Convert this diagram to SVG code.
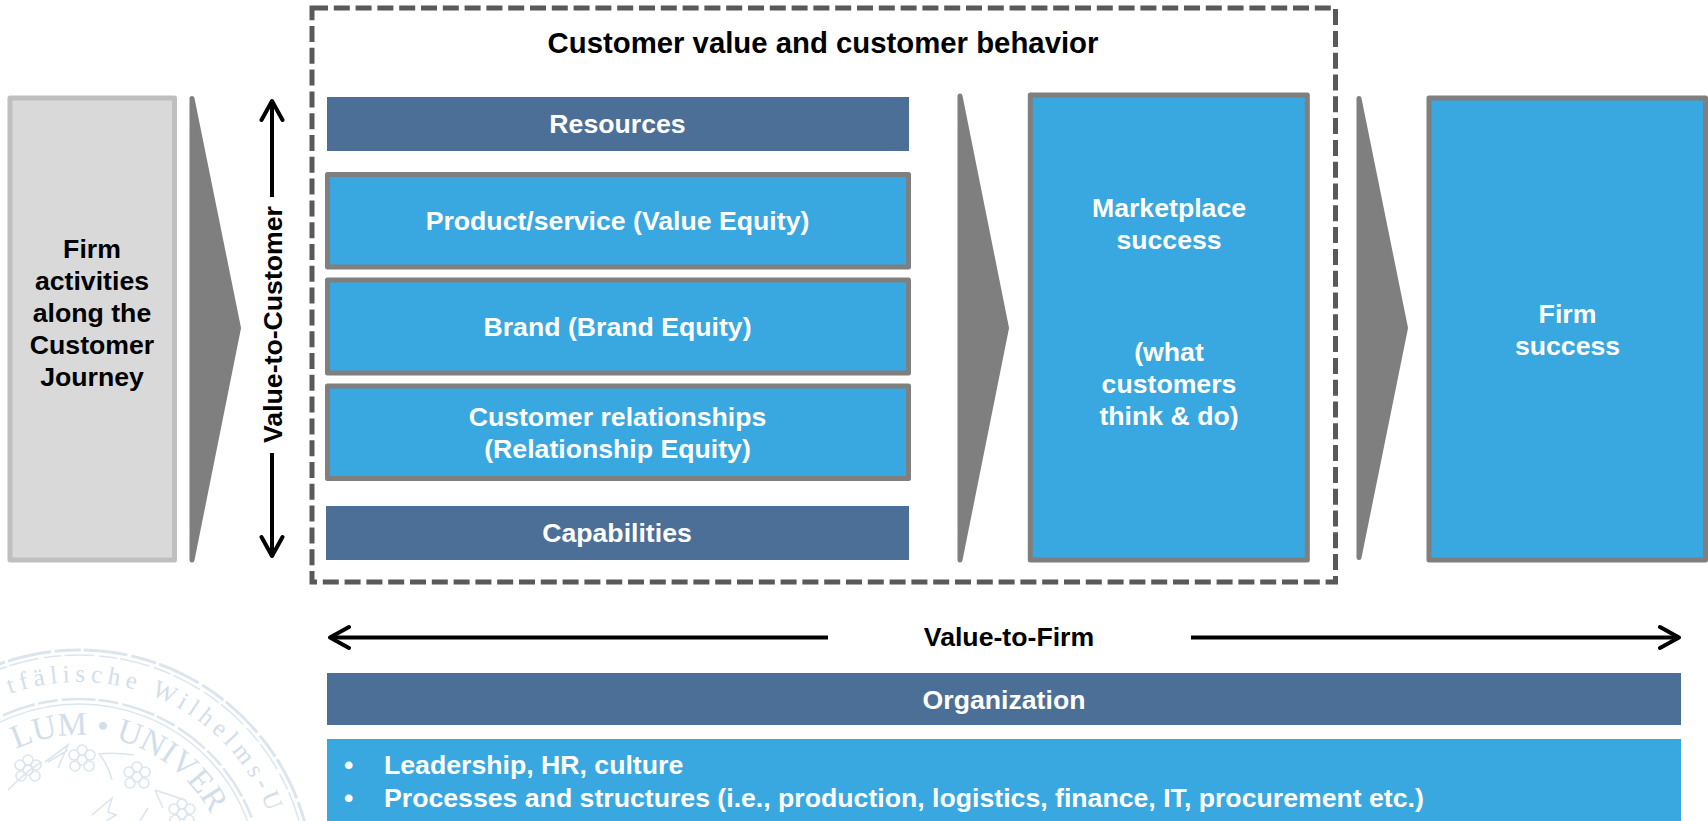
<svg xmlns="http://www.w3.org/2000/svg" width="1708" height="821" viewBox="0 0 1708 821">
<style>
text{font-family:"Liberation Sans",Arial,sans-serif;font-weight:700;font-size:26.67px}
.c{text-anchor:middle}.w{fill:#fff}.k{fill:#000}
.blue{fill:#39A8E0;stroke:#7F7F7F;stroke-width:5;stroke-linejoin:round}
.dark{fill:#4C6F98}
.chev{fill:#7F7F7F;stroke:#7F7F7F;stroke-width:5;stroke-linejoin:round}
.ar{fill:none;stroke:#000;stroke-width:4}
.head{fill:none;stroke:#000;stroke-width:4;stroke-linecap:round;stroke-linejoin:round}
.seal{fill:none;stroke:#DCE5EE}
.st{font-family:"Liberation Serif",serif;font-weight:400;fill:#D2DEE9}
</style>
<defs>
<path id="arcA" d="M10 694A202 202 0 0 1 281 884"/>
<path id="arcB" d="M16 749A149 149 0 0 1 228 884"/>
<g id="grape" class="seal" stroke-width="1.6"><circle cx="0" cy="-8" r="5"/><circle cx="8" cy="-3" r="5"/><circle cx="-8" cy="-3" r="5"/><circle cx="0" cy="2" r="5"/><circle cx="7" cy="8" r="5"/><circle cx="-7" cy="8" r="5"/></g>
</defs>
<g id="seal">
<circle class="seal" cx="79" cy="884" r="234" stroke-width="3" stroke-dasharray="26 3 44 4"/>
<circle class="seal" cx="79" cy="884" r="229" stroke-width="1.5" stroke-dasharray="30 5 18 3"/>
<circle class="seal" cx="79" cy="884" r="185" stroke-width="2.500" stroke-dasharray="34 3 20 4"/>
<circle class="seal" cx="79" cy="884" r="180" stroke-width="1.5"/>
<text class="st" style="font-size:25px;letter-spacing:5.3px"><textPath href="#arcA">tfälische Wilhelms-U</textPath></text>
<text class="st" style="font-size:33px"><textPath href="#arcB">LUM • UNIVER</textPath></text>
<use href="#grape" x="28" y="768"/><use href="#grape" x="82" y="758"/><use href="#grape" x="137" y="775"/><use href="#grape" x="182" y="812"/>
<path class="seal" stroke-width="1.600" d="M8 790Q30 768 42 762M45 762L68 745L58 768M48 762L68 750M98 754Q115 752 134 755M112 780Q108 765 100 755M155 790L185 800M155 790L163 808M92 815L112 798L108 812L116 815L106 821M140 821L148 808"/>
</g>
<g id="firm-activities"><rect x="10" y="98" width="164.5" height="462" fill="#D9D9D9" stroke="#BFBFBF" stroke-width="5" stroke-linejoin="round"/>
<text class="c k" x="92" y="257.5">Firm</text><text class="c k" x="92" y="289.5">activities</text><text class="c k" x="92" y="321.5">along the</text><text class="c k" x="92" y="353.5">Customer</text><text class="c k" x="92" y="385.5">Journey</text></g>
<g id="frame"><rect x="312" y="8" width="1023.5" height="574" fill="none" stroke="#595959" stroke-width="5" stroke-dasharray="16 5.8"/>
<text class="c k" x="823" y="53" style="font-size:29.33px">Customer value and customer behavior</text></g>
<g id="resources"><rect class="dark" x="327" y="97" width="582" height="54"/><text class="c w" x="617.5" y="132.5">Resources</text></g>
<g id="product"><rect class="blue" x="327.5" y="174.5" width="581" height="92.5"/><text class="c w" x="617.5" y="229.5">Product/service (Value Equity)</text></g>
<g id="brand"><rect class="blue" x="327.5" y="280" width="581" height="93"/><text class="c w" x="617.5" y="336">Brand (Brand Equity)</text></g>
<g id="relationships"><rect class="blue" x="327.5" y="386" width="581" height="92.5"/><text class="c w" x="617.5" y="426">Customer relationships</text><text class="c w" x="617.5" y="458">(Relationship Equity)</text></g>
<g id="capabilities"><rect class="dark" x="326" y="506" width="583" height="54"/><text class="c w" x="617" y="541.5">Capabilities</text></g>
<g id="marketplace"><rect class="blue" x="1030.3" y="95" width="277" height="465"/><text class="c w" x="1169" y="216.5">Marketplace</text><text class="c w" x="1169" y="248.5">success</text><text class="c w" x="1169" y="361">(what</text><text class="c w" x="1169" y="393">customers</text><text class="c w" x="1169" y="425">think &amp; do)</text></g>
<g id="firm-success"><rect class="blue" x="1429" y="98" width="276.5" height="462"/><text class="c w" x="1567.5" y="323">Firm</text><text class="c w" x="1567.5" y="355">success</text></g>
<g id="organization"><rect class="dark" x="327" y="673" width="1354" height="52"/><text class="c w" x="1004" y="709">Organization</text></g>
<g id="org-details"><rect x="327" y="739" width="1354" height="82" fill="#39A8E0"/><text class="w" x="344" y="774">•</text><text class="w" x="384" y="774">Leadership, HR, culture</text><text class="w" x="344" y="807">•</text><text class="w" x="384" y="807">Processes and structures (i.e., production, logistics, finance, IT, procurement etc.)</text></g>
<g id="connectors">
<path class="chev" d="M192 98.500L238.500 328L192 560Z"/>
<path class="chev" d="M960 96L1006.500 328L960 560Z"/>
<path class="chev" d="M1359 98.500L1405.500 328L1359 557.500Z"/>
<path class="ar" d="M272 101V197M272 453V556"/>
<path class="head" d="M261.500 120L272 101L282.500 120M261.500 537L272 556L282.500 537"/>
<path class="ar" d="M330 637.500H828M1191 637.500H1679"/>
<path class="head" d="M349 627L330 637.500L349 648M1660 627L1679 637.500L1660 648"/>
<text class="c k" transform="translate(281.500 324.500) rotate(-90)">Value-to-Customer</text>
<text class="c k" x="1009" y="646">Value-to-Firm</text>
</g>
</svg>
